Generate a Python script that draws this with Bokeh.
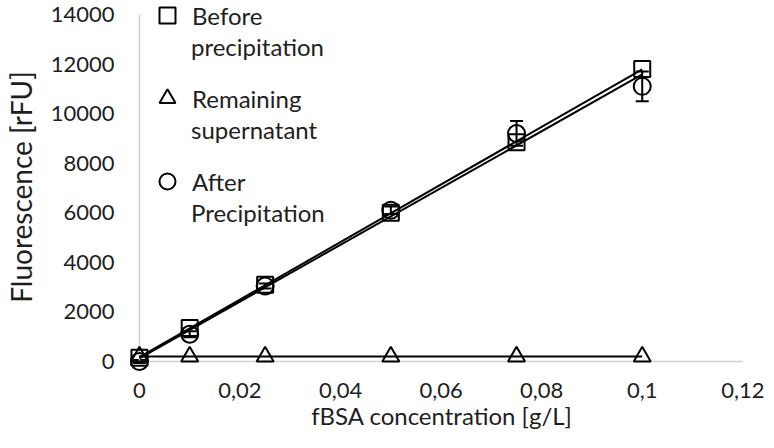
import numpy as np
from bokeh.plotting import figure
from bokeh.models import (ColumnDataSource, Whisker, TeeHead, Legend, LegendItem,
                          FixedTicker, Range1d)
from bokeh.embed import file_html
from bokeh.resources import INLINE

# ---- data ----
conc = [0, 0.01, 0.025, 0.05, 0.075, 0.1]
before = [150, 1350, 3100, 6000, 8850, 11800]
remaining = [200, 200, 200, 200, 200, 200]
after = [0, 1100, 3050, 6100, 9200, 11100]
after_err = [60, 120, 100, 150, 500, 600]

x_ticks = [0, 0.02, 0.04, 0.06, 0.08, 0.1, 0.12]
x_tick_labels = ["0", "0,02", "0,04", "0,06", "0,08", "0,1", "0,12"]
y_ticks = [0, 2000, 4000, 6000, 8000, 10000, 12000, 14000]

legend_first = ["Before", "Remaining", "After"]
legend_second = ["precipitation", "supernatant", "Precipitation"]

FONT = "Lato"
TXT = "#1e1e1e"

p = figure(width=766, height=432, output_backend="svg", toolbar_location=None,
           x_range=Range1d(-0.001976, 0.12233), y_range=Range1d(-402, 14483),
           min_border_left=125, min_border_right=12, min_border_top=2,
           min_border_bottom=60)
p.outline_line_color = None
p.grid.visible = False

for ax in (p.xaxis[0], p.yaxis[0]):
    ax.axis_line_color = None
    ax.major_tick_line_color = None
    ax.minor_tick_line_color = None
    ax.major_tick_out = 0
    ax.major_tick_in = 0
    ax.minor_tick_out = 0
    ax.minor_tick_in = 0
    ax.major_label_text_font = FONT
    ax.major_label_text_font_size = "22px"
    ax.major_label_text_color = TXT
    ax.axis_label_text_font = FONT
    ax.axis_label_text_font_style = "normal"
    ax.axis_label_text_color = TXT

p.xaxis.ticker = FixedTicker(ticks=x_ticks)
p.xaxis.major_label_overrides = {t: l for t, l in zip(x_ticks, x_tick_labels)}
p.xaxis.major_label_standoff = 11
p.xaxis.axis_label = "fBSA concentration [g/L]"
p.xaxis.axis_label_text_font_size = "24px"
p.xaxis.axis_label_standoff = 0
p.yaxis.ticker = FixedTicker(ticks=y_ticks)
p.yaxis.major_label_standoff = 15
p.yaxis.axis_label = "Fluorescence [rFU]"
p.yaxis.axis_label_text_font_size = "28px"
p.yaxis.axis_label_standoff = 10

# gray axis lines (Excel style)
p.segment(x0=x_ticks[0], y0=0, x1=x_ticks[-1], y1=0, line_color="#d0d0d0", line_width=1.5)
p.segment(x0=0, y0=y_ticks[0], x1=0, y1=y_ticks[-1], line_color="#d0d0d0", line_width=1.5)

# linear trendlines
xs = np.array(conc)
for ys in (before, after, remaining):
    m, b = np.polyfit(xs, np.array(ys), 1)
    p.line(x=[xs.min(), xs.max()], y=[m * xs.min() + b, m * xs.max() + b],
           line_color="black", line_width=2)

src = ColumnDataSource(dict(x=conc, before=before, remaining=remaining, after=after,
                            lo=[a - e for a, e in zip(after, after_err)],
                            hi=[a + e for a, e in zip(after, after_err)]))

w = Whisker(base="x", lower="lo", upper="hi", source=src, line_color="black", line_width=2,
            upper_head=TeeHead(size=13, line_color="black", line_width=2),
            lower_head=TeeHead(size=13, line_color="black", line_width=2))
p.add_layout(w)

r_sq = p.scatter("x", "before", source=src, marker="square", size=16, fill_color=None,
                 line_color="black", line_width=2)
r_tri = p.scatter("x", "remaining", source=src, marker="triangle", size=17, fill_color=None,
                  line_color="black", line_width=2)
r_ci = p.scatter("x", "after", source=src, marker="circle", size=17, fill_color=None,
                 line_color="black", line_width=2)

common = dict(border_line_color=None, background_fill_alpha=0, label_text_font=FONT,
              label_text_font_size="24px", label_text_color=TXT, padding=0, margin=0)

legend_a = Legend(items=[LegendItem(label=t, renderers=[r]) for t, r in
                         zip(legend_first, [r_sq, r_tri, r_ci])],
                  location=(18, 170), glyph_width=40, glyph_height=40, label_height=20,
                  spacing=43, label_standoff=5, **common)
legend_b = Legend(items=[LegendItem(label=t, renderers=[]) for t in legend_second],
                  location=(62, 144), glyph_width=0, glyph_height=30, label_height=30,
                  spacing=53, label_standoff=0, **common)
p.add_layout(legend_a)
p.add_layout(legend_b)

open("out.html", "w").write(file_html(p, INLINE))
